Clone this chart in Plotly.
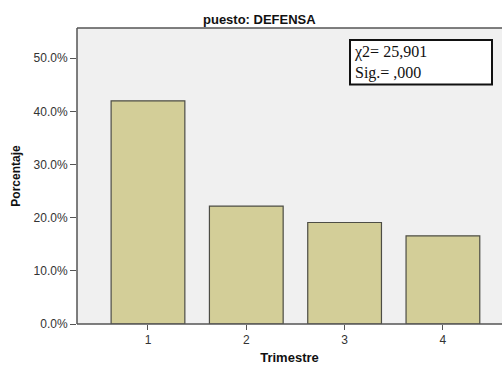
import plotly.graph_objects as go

categories = ["1", "2", "3", "4"]
percent = [42.0, 22.2, 19.1, 16.6]
y_ticks = [0, 10, 20, 30, 40, 50]
y_tick_labels = ["0.0%", "10.0%", "20.0%", "30.0%", "40.0%", "50.0%"]
title_text = "puesto: DEFENSA"
stat_lines = ["χ2= 25,901", "Sig.= ,000"]

W, H = 502, 365
L, R, T, B = 77, 0, 28, 39
pw, ph = W - L - R, H - T - B

def px(x):
    return (x - L) / pw

def py(y):
    return (H - B - y) / ph

fig = go.Figure()
fig.add_trace(go.Bar(
    x=categories, y=percent, width=0.75,
    marker=dict(color="#d3ce98", line=dict(color="#4d4d45", width=1.2)),
    hoverinfo="skip",
))

fig.update_layout(
    width=W, height=H,
    margin=dict(l=L, r=R, t=T, b=B),
    paper_bgcolor="white", plot_bgcolor="#f0f0f0",
    showlegend=False,
    font=dict(family="Liberation Sans, Arial", size=11, color="#333333"),
    xaxis=dict(
        type="category", range=[-0.722, 3.601],
        showline=False,
        ticks="outside", ticklen=5, tickcolor="#555555", tickwidth=1,
        showgrid=False, zeroline=False,
        tickfont=dict(size=12, color="#333333"),
        title=dict(text="<b>Trimestre</b>", font=dict(size=13, color="#111111"), standoff=8),
    ),
    yaxis=dict(
        range=[0, 55.7], tickvals=y_ticks, ticktext=y_tick_labels,
        showline=False,
        ticks="outside", ticklen=6, tickcolor="#555555", tickwidth=1,
        showgrid=False, zeroline=False,
        tickfont=dict(size=12, color="#333333"),
        title=dict(text="<b>Porcentaje</b>", font=dict(size=12, color="#111111"), standoff=10),
    ),
)

# plot-area frame: left, top, bottom
frame = dict(color="#555555", width=1.5)
fig.add_shape(type="line", xref="paper", yref="paper", x0=0, x1=1, y0=1, y1=1, line=frame)
fig.add_shape(type="line", xref="paper", yref="paper", x0=0, x1=1, y0=0, y1=0, line=frame)
fig.add_shape(type="line", xref="paper", yref="paper", x0=0, x1=0, y0=0, y1=1, line=frame)

fig.add_annotation(
    text="<b>" + title_text + "</b>", xref="paper", yref="paper",
    x=px(259), y=py(19), xanchor="center", yanchor="middle", showarrow=False,
    font=dict(size=13, color="#111111", family="Liberation Sans, Arial"),
)

fig.add_shape(
    type="rect", xref="paper", yref="paper",
    x0=px(350), x1=px(492), y0=py(85), y1=py(40),
    line=dict(color="#111111", width=2), fillcolor="white",
)
fig.add_annotation(
    text="<br>".join(stat_lines), xref="paper", yref="paper",
    x=px(352), y=py(63), xanchor="left", yanchor="middle", align="left",
    showarrow=False,
    font=dict(size=16, color="#111111", family="Liberation Serif, Times New Roman"),
)

fig.write_html("out.html")
